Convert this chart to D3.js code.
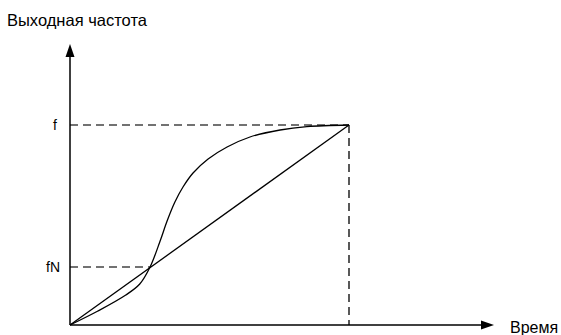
<!DOCTYPE html>
<html>
<head>
<meta charset="utf-8">
<script src="https://cdn.jsdelivr.net/npm/d3@7"></script>
<style>
  body { margin: 0; background: #fff; }
  text { font-family: "Liberation Sans", Arial, sans-serif; fill: #000; }
</style>
</head>
<body>
<svg id="chart" width="561" height="335"></svg>
<script>
// normalized time (0..1) and output frequency (0..1)
var curveT = [0, 0.1, 0.2, 0.25, 0.287, 0.323, 0.348, 0.376, 0.405, 0.441, 0.495, 0.563, 0.645, 0.753, 0.849, 1];
var curveF = [0, 0.07, 0.15, 0.205, 0.29, 0.42, 0.52, 0.615, 0.69, 0.76, 0.83, 0.89, 0.94, 0.975, 0.992, 1];
var linearT = [0, 1];
var linearF = [0, 1];
var fN = 0.29, tN = 0.287;
var yLabels = ["f", "fN"];
var yLabelVals = [1, fN];
var yLabelX = [53, 46];

var x = d3.scaleLinear().domain([0, 1]).range([70, 349]);
var y = d3.scaleLinear().domain([0, 1]).range([325, 125]);

var svg = d3.select("#chart");

// dashed guides
var dash = svg.append("g")
    .attr("stroke", "#444")
    .attr("stroke-width", 1.3)
    .attr("stroke-dasharray", "8,5")
    .attr("fill", "none");

dash.append("line")
    .attr("x1", x(0)).attr("x2", x(1))
    .attr("y1", y(1)).attr("y2", y(1));
dash.append("line")
    .attr("x1", x(0)).attr("x2", x(tN))
    .attr("y1", y(fN)).attr("y2", y(fN));
dash.append("line")
    .attr("x1", x(1)).attr("x2", x(1))
    .attr("y1", y(1)).attr("y2", y(0))
    .attr("stroke", "#000");

// axes
svg.append("line")
    .attr("x1", x(0)).attr("x2", 485)
    .attr("y1", y(0)).attr("y2", y(0))
    .attr("stroke", "#000").attr("stroke-width", 1.5);
svg.append("line")
    .attr("x1", x(0)).attr("x2", x(0))
    .attr("y1", y(0)).attr("y2", 52)
    .attr("stroke", "#000").attr("stroke-width", 1.5);

// arrow heads
svg.append("path")
    .attr("d", "M" + x(0) + ",44 L" + (x(0) - 4.5) + ",57 L" + (x(0) + 4.5) + ",57 Z")
    .attr("fill", "#000");
svg.append("path")
    .attr("d", "M494," + y(0) + " L481," + (y(0) - 4.5) + " L481," + (y(0) + 4.5) + " Z")
    .attr("fill", "#000");

// linear ramp
var line = d3.line()
    .x(function(d) { return x(d[0]); })
    .y(function(d) { return y(d[1]); });

svg.append("path")
    .datum(d3.zip(linearT, linearF))
    .attr("d", line)
    .attr("fill", "none")
    .attr("stroke", "#000")
    .attr("stroke-width", 1.3);

// S-curve
svg.append("path")
    .datum(d3.zip(curveT, curveF))
    .attr("d", line.curve(d3.curveCatmullRom.alpha(0.5)))
    .attr("fill", "none")
    .attr("stroke", "#000")
    .attr("stroke-width", 1.3);

// labels
svg.append("text")
    .attr("x", 7).attr("y", 26)
    .attr("font-size", 16.5)
    .text("Выходная частота");

svg.append("text")
    .attr("x", 510).attr("y", 333)
    .attr("font-size", 16)
    .text("Время");

svg.selectAll(".ylab")
    .data(yLabels)
    .enter().append("text")
    .attr("class", "ylab")
    .attr("x", function(d, i) { return yLabelX[i]; })
    .attr("y", function(d, i) { return y(yLabelVals[i]) + 5; })
    .attr("font-size", 14)
    .text(function(d) { return d; });
</script>
</body>
</html>
